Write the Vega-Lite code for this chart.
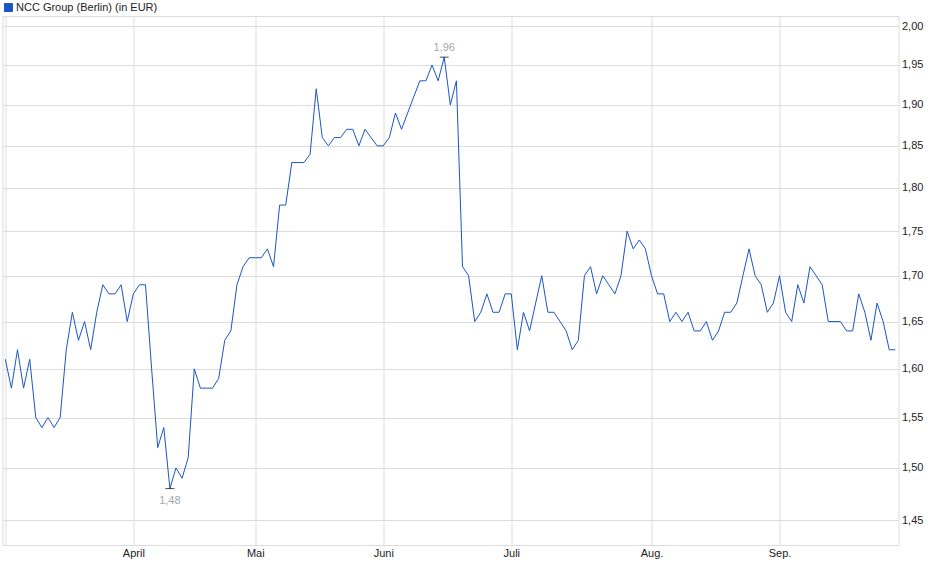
{
  "$schema": "https://vega.github.io/schema/vega-lite/v6.json",
  "description": "NCC Group (Berlin) share price in EUR, one row per trading day.",
  "background": "white",
  "autosize": "none",
  "padding": {"left": 2.5, "top": 16, "right": 41.5, "bottom": 34},
  "width": 896,
  "height": 529,
  "config": {
    "locale": {"number": {"decimal": ",", "thousands": ".", "grouping": [3], "currency": ["", " €"]}},
    "font": "Liberation Sans",
    "view": {"stroke": "#dcdcdc", "strokeWidth": 1},
    "axis": {"gridColor": "#dcdcdc", "gridWidth": 1, "domain": false, "ticks": false, "labelFont": "Liberation Sans", "labelFontSize": 11, "labelColor": "#222", "title": null}
  },
  "data": {
    "values": [
      {"i": 0, "v": 1.61}, {"i": 1, "v": 1.58}, {"i": 2, "v": 1.62}, {"i": 3, "v": 1.58},
      {"i": 4, "v": 1.61}, {"i": 5, "v": 1.55}, {"i": 6, "v": 1.54}, {"i": 7, "v": 1.55},
      {"i": 8, "v": 1.54}, {"i": 9, "v": 1.55}, {"i": 10, "v": 1.62}, {"i": 11, "v": 1.66},
      {"i": 12, "v": 1.63}, {"i": 13, "v": 1.65}, {"i": 14, "v": 1.62}, {"i": 15, "v": 1.66},
      {"i": 16, "v": 1.69}, {"i": 17, "v": 1.68}, {"i": 18, "v": 1.68}, {"i": 19, "v": 1.69},
      {"i": 20, "v": 1.65}, {"i": 21, "v": 1.68}, {"i": 22, "v": 1.69}, {"i": 23, "v": 1.69},
      {"i": 24, "v": 1.60}, {"i": 25, "v": 1.52}, {"i": 26, "v": 1.54}, {"i": 27, "v": 1.48},
      {"i": 28, "v": 1.50}, {"i": 29, "v": 1.49}, {"i": 30, "v": 1.51}, {"i": 31, "v": 1.60},
      {"i": 32, "v": 1.58}, {"i": 33, "v": 1.58}, {"i": 34, "v": 1.58}, {"i": 35, "v": 1.59},
      {"i": 36, "v": 1.63}, {"i": 37, "v": 1.64}, {"i": 38, "v": 1.69}, {"i": 39, "v": 1.71},
      {"i": 40, "v": 1.72}, {"i": 41, "v": 1.72}, {"i": 42, "v": 1.72}, {"i": 43, "v": 1.73},
      {"i": 44, "v": 1.71}, {"i": 45, "v": 1.78}, {"i": 46, "v": 1.78}, {"i": 47, "v": 1.83},
      {"i": 48, "v": 1.83}, {"i": 49, "v": 1.83}, {"i": 50, "v": 1.84}, {"i": 51, "v": 1.92},
      {"i": 52, "v": 1.86}, {"i": 53, "v": 1.85}, {"i": 54, "v": 1.86}, {"i": 55, "v": 1.86},
      {"i": 56, "v": 1.87}, {"i": 57, "v": 1.87}, {"i": 58, "v": 1.85}, {"i": 59, "v": 1.87},
      {"i": 60, "v": 1.86}, {"i": 61, "v": 1.85}, {"i": 62, "v": 1.85}, {"i": 63, "v": 1.86},
      {"i": 64, "v": 1.89}, {"i": 65, "v": 1.87}, {"i": 66, "v": 1.89}, {"i": 67, "v": 1.91},
      {"i": 68, "v": 1.93}, {"i": 69, "v": 1.93}, {"i": 70, "v": 1.95}, {"i": 71, "v": 1.93},
      {"i": 72, "v": 1.96}, {"i": 73, "v": 1.90}, {"i": 74, "v": 1.93}, {"i": 75, "v": 1.71},
      {"i": 76, "v": 1.70}, {"i": 77, "v": 1.65}, {"i": 78, "v": 1.66}, {"i": 79, "v": 1.68},
      {"i": 80, "v": 1.66}, {"i": 81, "v": 1.66}, {"i": 82, "v": 1.68}, {"i": 83, "v": 1.68},
      {"i": 84, "v": 1.62}, {"i": 85, "v": 1.66}, {"i": 86, "v": 1.64}, {"i": 87, "v": 1.67},
      {"i": 88, "v": 1.70}, {"i": 89, "v": 1.66}, {"i": 90, "v": 1.66}, {"i": 91, "v": 1.65},
      {"i": 92, "v": 1.64}, {"i": 93, "v": 1.62}, {"i": 94, "v": 1.63}, {"i": 95, "v": 1.70},
      {"i": 96, "v": 1.71}, {"i": 97, "v": 1.68}, {"i": 98, "v": 1.70}, {"i": 99, "v": 1.69},
      {"i": 100, "v": 1.68}, {"i": 101, "v": 1.70}, {"i": 102, "v": 1.75}, {"i": 103, "v": 1.73},
      {"i": 104, "v": 1.74}, {"i": 105, "v": 1.73}, {"i": 106, "v": 1.70}, {"i": 107, "v": 1.68},
      {"i": 108, "v": 1.68}, {"i": 109, "v": 1.65}, {"i": 110, "v": 1.66}, {"i": 111, "v": 1.65},
      {"i": 112, "v": 1.66}, {"i": 113, "v": 1.64}, {"i": 114, "v": 1.64}, {"i": 115, "v": 1.65},
      {"i": 116, "v": 1.63}, {"i": 117, "v": 1.64}, {"i": 118, "v": 1.66}, {"i": 119, "v": 1.66},
      {"i": 120, "v": 1.67}, {"i": 121, "v": 1.70}, {"i": 122, "v": 1.73}, {"i": 123, "v": 1.70},
      {"i": 124, "v": 1.69}, {"i": 125, "v": 1.66}, {"i": 126, "v": 1.67}, {"i": 127, "v": 1.70},
      {"i": 128, "v": 1.66}, {"i": 129, "v": 1.65}, {"i": 130, "v": 1.69}, {"i": 131, "v": 1.67},
      {"i": 132, "v": 1.71}, {"i": 133, "v": 1.70}, {"i": 134, "v": 1.69}, {"i": 135, "v": 1.65},
      {"i": 136, "v": 1.65}, {"i": 137, "v": 1.65}, {"i": 138, "v": 1.64}, {"i": 139, "v": 1.64},
      {"i": 140, "v": 1.68}, {"i": 141, "v": 1.66}, {"i": 142, "v": 1.63}, {"i": 143, "v": 1.67},
      {"i": 144, "v": 1.65}, {"i": 145, "v": 1.62}, {"i": 146, "v": 1.62}
    ]
  },
  "encoding": {
    "x": {
      "field": "i",
      "type": "quantitative",
      "scale": {"domain": [-0.46, 146.52], "nice": false, "zero": false},
      "axis": {
        "values": [0, 21, 41, 62, 83, 106, 127],
        "labelExpr": "datum.value == 21 ? 'April' : datum.value == 41 ? 'Mai' : datum.value == 62 ? 'Juni' : datum.value == 83 ? 'Juli' : datum.value == 106 ? 'Aug.' : datum.value == 127 ? 'Sep.' : ''",
        "labelPadding": 2,
        "labelFlush": false,
        "labelOverlap": false
      }
    },
    "y": {
      "field": "v",
      "type": "quantitative",
      "scale": {"type": "log", "domain": [1.4266, 2.0132], "nice": false, "zero": false},
      "axis": {
        "orient": "right",
        "values": [1.45, 1.5, 1.55, 1.6, 1.65, 1.7, 1.75, 1.8, 1.85, 1.9, 1.95, 2.0],
        "format": ".2f",
        "labelPadding": 3,
        "labelFlush": false,
        "labelOverlap": false
      }
    }
  },
  "layer": [
    {
      "mark": {"type": "line", "strokeWidth": 1, "interpolate": "linear"},
      "encoding": {
        "color": {
          "datum": "NCC Group (Berlin) (in EUR)",
          "scale": {"range": ["#1a56c4"]},
          "legend": {
            "title": null,
            "orient": "none",
            "legendX": 0.5,
            "legendY": -14,
            "padding": 0,
            "symbolType": "square",
            "symbolSize": 64,
            "labelOffset": 2,
            "labelFontSize": 11,
            "labelColor": "#222",
            "labelFont": "Liberation Sans",
            "encode": {"symbols": {"update": {"fill": {"value": "#1a56c4"}, "stroke": {"value": "#10306e"}, "strokeWidth": {"value": 1}}}}
          }
        }
      }
    },
    {
      "transform": [
        {"joinaggregate": [{"op": "min", "field": "v", "as": "lo"}]},
        {"filter": "datum.v == datum.lo"}
      ],
      "layer": [
        {"mark": {"type": "tick", "orient": "horizontal", "size": 9, "thickness": 1, "color": "black"}},
        {"mark": {"type": "text", "dy": 12, "baseline": "middle", "fontSize": 11, "color": "#a3a6ae"}, "encoding": {"text": {"field": "v", "type": "quantitative", "format": ".2f"}}}
      ]
    },
    {
      "transform": [
        {"joinaggregate": [{"op": "max", "field": "v", "as": "hi"}]},
        {"filter": "datum.v == datum.hi"}
      ],
      "layer": [
        {"mark": {"type": "tick", "orient": "horizontal", "size": 9, "thickness": 1, "color": "black"}},
        {"mark": {"type": "text", "dy": -9, "baseline": "middle", "fontSize": 11, "color": "#a3a6ae"}, "encoding": {"text": {"field": "v", "type": "quantitative", "format": ".2f"}}}
      ]
    }
  ]
}
